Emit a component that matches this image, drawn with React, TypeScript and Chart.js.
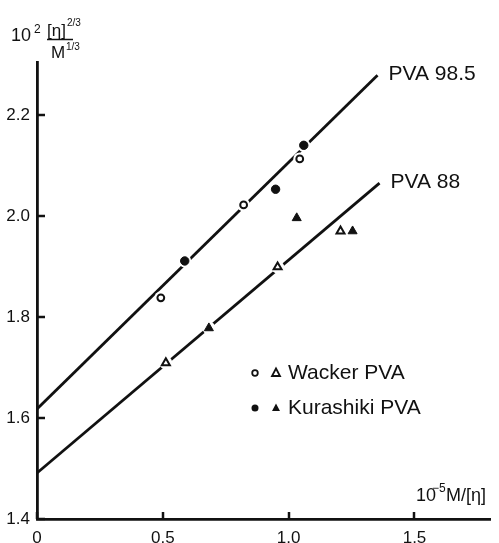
import React, { useEffect, useRef } from "react";
import { Chart, registerables } from "chart.js";

Chart.register(...registerables);

// Data
const xTicks = [0, 0.5, 1.0, 1.5];
const xTickLabels = ["0", "0.5", "1.0", "1.5"];
const yTicks = [1.4, 1.6, 1.8, 2.0, 2.2];
const yTickLabels = ["1.4", "1.6", "1.8", "2.0", "2.2"];

const line985 = [
  { x: 0, y: 1.618 },
  { x: 1.353, y: 2.279 },
];
const line88 = [
  { x: 0, y: 1.491 },
  { x: 1.361, y: 2.065 },
];

const wackerCircles = [
  { x: 0.492, y: 1.838 },
  { x: 0.821, y: 2.022 },
  { x: 1.044, y: 2.113 },
];
const kurashikiCircles = [
  { x: 0.587, y: 1.911 },
  { x: 0.948, y: 2.053 },
  { x: 1.06, y: 2.14 },
];
const wackerTriangles = [
  { x: 0.512, y: 1.709 },
  { x: 0.956, y: 1.899 },
  { x: 1.206, y: 1.97 },
];
const kurashikiTriangles = [
  { x: 0.683, y: 1.778 },
  { x: 1.032, y: 1.996 },
  { x: 1.254, y: 1.97 },
];

const lineLabels = ["PVA 98.5", "PVA 88"];
const legendLabels = ["Wacker PVA", "Kurashiki PVA"];

const FONT = '"Liberation Sans", Arial, sans-serif';
const INK = "#111";

const overlayPlugin = {
  id: "overlay",
  afterDraw(chart: any) {
    const { ctx, chartArea, scales } = chart;
    const xs = scales.x;
    const ys = scales.y;
    ctx.save();
    ctx.strokeStyle = INK;
    ctx.fillStyle = INK;
    ctx.lineWidth = 2.5;
    // inward ticks
    yTicks.forEach((v) => {
      const py = Math.round(ys.getPixelForValue(v));
      ctx.beginPath();
      ctx.moveTo(chartArea.left, py);
      ctx.lineTo(chartArea.left + 8, py);
      ctx.stroke();
    });
    xTicks.forEach((v) => {
      const px = Math.round(xs.getPixelForValue(v));
      ctx.beginPath();
      ctx.moveTo(px, chartArea.bottom);
      ctx.lineTo(px, chartArea.bottom - 7);
      ctx.stroke();
    });

    // line labels
    ctx.font = `21px ${FONT}`;
    ctx.textBaseline = "middle";
    ctx.textAlign = "left";
    const e1 = line985[line985.length - 1];
    const e2 = line88[line88.length - 1];
    ctx.fillText(lineLabels[0], xs.getPixelForValue(e1.x) + 11, ys.getPixelForValue(e1.y) - 1);
    ctx.fillText(lineLabels[1], xs.getPixelForValue(e2.x) + 11, ys.getPixelForValue(e2.y) - 1);

    // legend
    const lx = chartArea.left + 218;
    const rows = [373, 408];
    rows.forEach((ry, i) => {
      ctx.lineWidth = 1.8;
      ctx.beginPath();
      ctx.arc(lx, ry, i === 0 ? 2.8 : 3.5, 0, Math.PI * 2);
      if (i === 0) ctx.stroke();
      else ctx.fill();
      ctx.beginPath();
      ctx.moveTo(lx + 21, ry - 4.5);
      ctx.lineTo(lx + 25, ry + 3);
      ctx.lineTo(lx + 17, ry + 3);
      ctx.closePath();
      if (i === 0) ctx.stroke();
      else ctx.fill();
      ctx.font = `21px ${FONT}`;
      ctx.fillText(legendLabels[i], lx + 33, ry);
    });

    // x-axis title
    ctx.textBaseline = "alphabetic";
    ctx.font = `18px ${FONT}`;
    ctx.fillText("10", 416, 501);
    ctx.font = `12px ${FONT}`;
    ctx.fillText("−5", 432, 492);
    ctx.font = `18px ${FONT}`;
    ctx.fillText("M/[η]", 446, 501);

    // y-axis title
    ctx.font = `18px ${FONT}`;
    ctx.fillText("10", 11, 41);
    ctx.font = `12px ${FONT}`;
    ctx.fillText("2", 34, 33);
    ctx.font = `17px ${FONT}`;
    ctx.fillText("[η]", 47, 36);
    ctx.font = `10px ${FONT}`;
    ctx.fillText("2/3", 67, 26);
    ctx.lineWidth = 1.5;
    ctx.beginPath();
    ctx.moveTo(47, 39.5);
    ctx.lineTo(73, 39.5);
    ctx.stroke();
    ctx.font = `17px ${FONT}`;
    ctx.fillText("M", 51, 58);
    ctx.font = `10px ${FONT}`;
    ctx.fillText("1/3", 66, 50);
    ctx.restore();
  },
};

export default function App() {
  const ref = useRef<HTMLCanvasElement | null>(null);
  useEffect(() => {
    if (!ref.current) return;
    const allPoints = [
      ...wackerCircles,
      ...kurashikiCircles,
      ...wackerTriangles,
      ...kurashikiTriangles,
    ];
    const chart = new Chart(ref.current, {
      type: "scatter",
      data: {
        datasets: [
          {
            data: line985,
            showLine: true,
            borderColor: INK,
            borderWidth: 2.8,
            pointRadius: 0,
            order: 3,
          },
          {
            data: line88,
            showLine: true,
            borderColor: INK,
            borderWidth: 2.8,
            pointRadius: 0,
            order: 3,
          },
          {
            data: allPoints,
            pointRadius: 6.5,
            pointBackgroundColor: "#fff",
            pointBorderWidth: 0,
            pointBorderColor: "#fff",
            order: 2,
          },
          {
            data: wackerCircles,
            pointStyle: "circle",
            pointRadius: 3.4,
            pointBackgroundColor: "#fff",
            pointBorderColor: INK,
            pointBorderWidth: 2,
            order: 1,
          },
          {
            data: kurashikiCircles,
            pointStyle: "circle",
            pointRadius: 4.2,
            pointBackgroundColor: INK,
            pointBorderColor: INK,
            pointBorderWidth: 1,
            order: 1,
          },
          {
            data: wackerTriangles,
            pointStyle: "triangle",
            pointRadius: 4.6,
            pointBackgroundColor: "#fff",
            pointBorderColor: INK,
            pointBorderWidth: 2,
            order: 1,
          },
          {
            data: kurashikiTriangles,
            pointStyle: "triangle",
            pointRadius: 5.2,
            pointBackgroundColor: INK,
            pointBorderColor: INK,
            pointBorderWidth: 1,
            order: 1,
          },
        ],
      },
      options: {
        responsive: false,
        animation: false,
        events: [],
        layout: { padding: { left: 0, right: 9, top: 62, bottom: 0 } },
        plugins: { legend: { display: false }, tooltip: { enabled: false } },
        scales: {
          x: {
            type: "linear",
            min: 0,
            max: 1.8,
            afterFit: (s: any) => {
              s.height = 24;
            },
            afterBuildTicks: (s: any) => {
              s.ticks = xTicks.map((v) => ({ value: v }));
            },
            grid: { display: false, drawTicks: false },
            border: { display: true, color: INK, width: 2.8 },
            ticks: {
              color: INK,
              padding: 9,
              maxRotation: 0,
              font: { family: FONT, size: 17 },
              callback: (v: any) => {
                const i = xTicks.indexOf(Number(v));
                return i >= 0 ? xTickLabels[i] : "";
              },
            },
          },
          y: {
            type: "linear",
            min: 1.4,
            max: 2.305,
            afterFit: (s: any) => {
              s.width = 37;
            },
            afterBuildTicks: (s: any) => {
              s.ticks = yTicks.map((v) => ({ value: v }));
            },
            grid: { display: false, drawTicks: false },
            border: { display: true, color: INK, width: 2.8 },
            ticks: {
              color: INK,
              padding: 7,
              font: { family: FONT, size: 17 },
              callback: (v: any) => {
                const i = yTicks.findIndex((t) => Math.abs(t - Number(v)) < 1e-6);
                return i >= 0 ? yTickLabels[i] : "";
              },
            },
          },
        },
      },
      plugins: [overlayPlugin],
    });
    return () => chart.destroy();
  }, []);
  return (
    <div style={{ position: "absolute", left: 0, top: 0, width: 499, height: 543, background: "#fff" }}>
      <canvas ref={ref} width={499} height={543} />
    </div>
  );
}
